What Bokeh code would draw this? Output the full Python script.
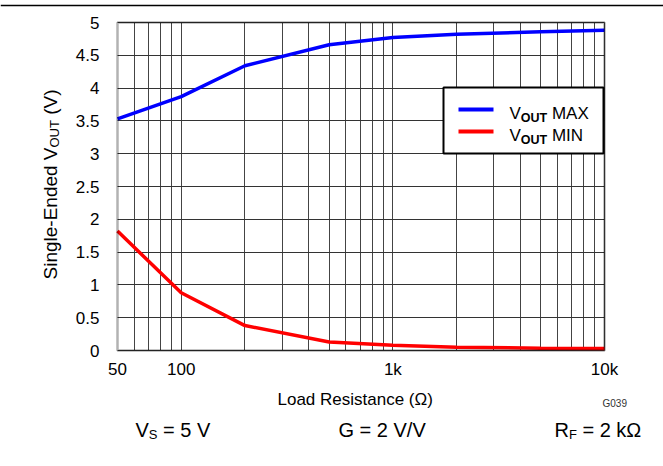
import math
from bokeh.plotting import figure
from bokeh.models import (Range1d, FixedTicker, Label, LogAxis, LinearAxis, Grid,
                          BoxAnnotation, Span)
from bokeh.embed import file_html
from bokeh.resources import INLINE

# ---- data ----
resistance = [50, 100, 200, 500, 1000, 2000, 5000, 10000]
vout_max = [3.53, 3.87, 4.34, 4.66, 4.77, 4.82, 4.86, 4.88]
vout_min = [1.82, 0.88, 0.38, 0.13, 0.08, 0.05, 0.035, 0.03]
x_ticks = [50, 100, 1000, 10000]
x_tick_labels = ["50", "100", "1k", "10k"]
y_ticks = [0, 0.5, 1, 1.5, 2, 2.5, 3, 3.5, 4, 4.5, 5]
y_tick_labels = ["0", "0.5", "1", "1.5", "2", "2.5", "3", "3.5", "4", "4.5", "5"]
x_grid = [60, 70, 80, 90, 100, 200, 300, 400, 500, 600, 700, 800, 900, 1000,
          2000, 3000, 4000, 5000, 6000, 7000, 8000, 9000, 10000]

# ---- layout (canvas pixels) ----
W, H = 663, 466
PL, PR, PT, PB = 117, 604, 22, 350      # plot box
XMIN, XMAX, YMIN, YMAX = 50, 10000, 0, 5
FONT = "Liberation Sans"

LDEC = math.log10(XMAX / XMIN)


def dx(cx):
    return 10 ** (math.log10(XMIN) + (cx - PL) / (PR - PL) * LDEC)


def dy(cy):
    return YMIN + (PB - cy) / (PB - PT) * (YMAX - YMIN)


CW = {" ": 278, "(": 333, ")": 333, "-": 333, ".": 278, "/": 278, "=": 584,
      "A": 667, "E": 667, "F": 611, "G": 778, "I": 278, "M": 833, "N": 722,
      "O": 778, "R": 722, "S": 667, "T": 611, "U": 722, "V": 667, "X": 667,
      "a": 556, "c": 500, "d": 556, "e": 556, "g": 556, "i": 222, "k": 500,
      "l": 222, "n": 556, "o": 556, "s": 500, "t": 278, "\u03a9": 768}


def tw(s, size):
    return sum(CW.get(c, 556) for c in s) / 1000.0 * size


p = figure(width=W, height=H, x_axis_type="log",
           x_range=Range1d(dx(0), dx(W)), y_range=Range1d(dy(H), dy(0)),
           x_axis_location=None, y_axis_location=None,
           output_backend="svg", toolbar_location=None,
           min_border=0, min_border_left=0, min_border_right=0,
           min_border_top=0, min_border_bottom=0)
p.outline_line_color = None
p.xgrid.visible = False
p.ygrid.visible = False

xaxis = LogAxis(fixed_location=YMIN, bounds=(XMIN, XMAX),
                ticker=FixedTicker(ticks=x_ticks),
                major_label_overrides={t: l for t, l in zip(x_ticks, x_tick_labels)})
yaxis = LinearAxis(fixed_location=XMIN, bounds=(YMIN, YMAX),
                   ticker=FixedTicker(ticks=y_ticks),
                   major_label_overrides={t: l for t, l in zip(y_ticks, y_tick_labels)})
for ax in (xaxis, yaxis):
    ax.axis_line_color = None
    ax.major_tick_line_color = None
    ax.minor_tick_line_color = None
    ax.major_label_text_font = FONT
    ax.major_label_text_font_size = "17px"
    ax.major_label_text_color = "black"
xaxis.major_label_standoff = 3
yaxis.major_label_standoff = 12
p.add_layout(xaxis, "below")
p.add_layout(yaxis, "left")

# grids limited to the plot box
try:
    xg = Grid(dimension=0, ticker=FixedTicker(ticks=x_grid), bounds=(XMIN, XMAX),
              cross_bounds=(YMIN, YMAX), grid_line_color="#444444", grid_line_width=1)
    yg = Grid(dimension=1, ticker=FixedTicker(ticks=y_ticks), bounds=(YMIN, YMAX),
              cross_bounds=(XMIN, XMAX), grid_line_color="#333333", grid_line_width=1)
    p.add_layout(xg, "center")
    p.add_layout(yg, "center")
except Exception:
    p.segment(x0=x_grid, x1=x_grid, y0=[YMIN] * len(x_grid), y1=[YMAX] * len(x_grid),
              line_color="#444444", line_width=1)
    p.segment(x0=[XMIN] * len(y_ticks), x1=[XMAX] * len(y_ticks), y0=y_ticks, y1=y_ticks,
              line_color="#333333", line_width=1)

p.line(resistance, vout_max, line_color="#0000ff", line_width=3.5)
p.line(resistance, vout_min, line_color="#ff0000", line_width=3.5)

# legend box
p.quad(left=[dx(443)], right=[dx(603)], top=[dy(87)], bottom=[dy(153)],
       fill_color="white", line_color="black", line_width=2)
p.line([dx(458), dx(493)], [dy(109), dy(109)], line_color="#0000ff", line_width=4)
p.line([dx(458), dx(493)], [dy(131), dy(131)], line_color="#ff0000", line_width=4)

# plot frame and header rule
p.add_layout(BoxAnnotation(left=XMIN, right=XMAX, bottom=YMIN, top=YMAX,
                           fill_color=None, line_color="black", line_width=2.5))
p.add_layout(Span(location=dy(5), dimension="width", line_color="black", line_width=1.5))


def runs(pieces, cx, cy, rotated=False, color="black"):
    pos = cx if not rotated else cy
    for text, size, bold, shift in pieces:
        stripped = text.lstrip(" ")
        lead = tw(text[:len(text) - len(stripped)], size)
        if rotated:
            pos -= lead
            lab = Label(x=dx(cx + shift), y=dy(pos), text=stripped, angle=math.pi / 2)
            pos -= tw(stripped, size)
        else:
            pos += lead
            lab = Label(x=dx(pos), y=dy(cy + shift), text=stripped)
            pos += tw(stripped, size)
        lab.text_font = FONT
        lab.text_font_size = f"{size}px"
        lab.text_font_style = "bold" if bold else "normal"
        lab.text_baseline = "alphabetic"
        lab.text_align = "left"
        lab.text_color = color
        p.add_layout(lab)


runs([("V", 17, False, 0), ("OUT", 12.5, True, 4), (" MAX", 17, False, 0)], 509, 113)
runs([("V", 17, False, 0), ("OUT", 12.5, True, 4), (" MIN", 17, False, 0)], 509, 135)

runs([("Single-Ended ", 19, False, 0), ("V", 19, False, 0), ("OUT", 13, False, 4),
      (" (V)", 19, False, 0)], 50, 279, rotated=True)

runs([("Load Resistance (\u03a9)", 17, False, 0)], 277, 399)

runs([("V", 20, False, 0), ("S", 13, False, 5), (" = 5 V", 20, False, 0)], 135, 429)
runs([("G = 2 V/V", 20, False, 0)], 338, 429)
runs([("R", 20, False, 0), ("F", 13, False, 5), (" = 2 k\u03a9", 20, False, 0)], 554, 429)
runs([("G039", 10, False, 0)], 602, 403, color="#333333")

open("out.html", "w").write(file_html(p, INLINE))
